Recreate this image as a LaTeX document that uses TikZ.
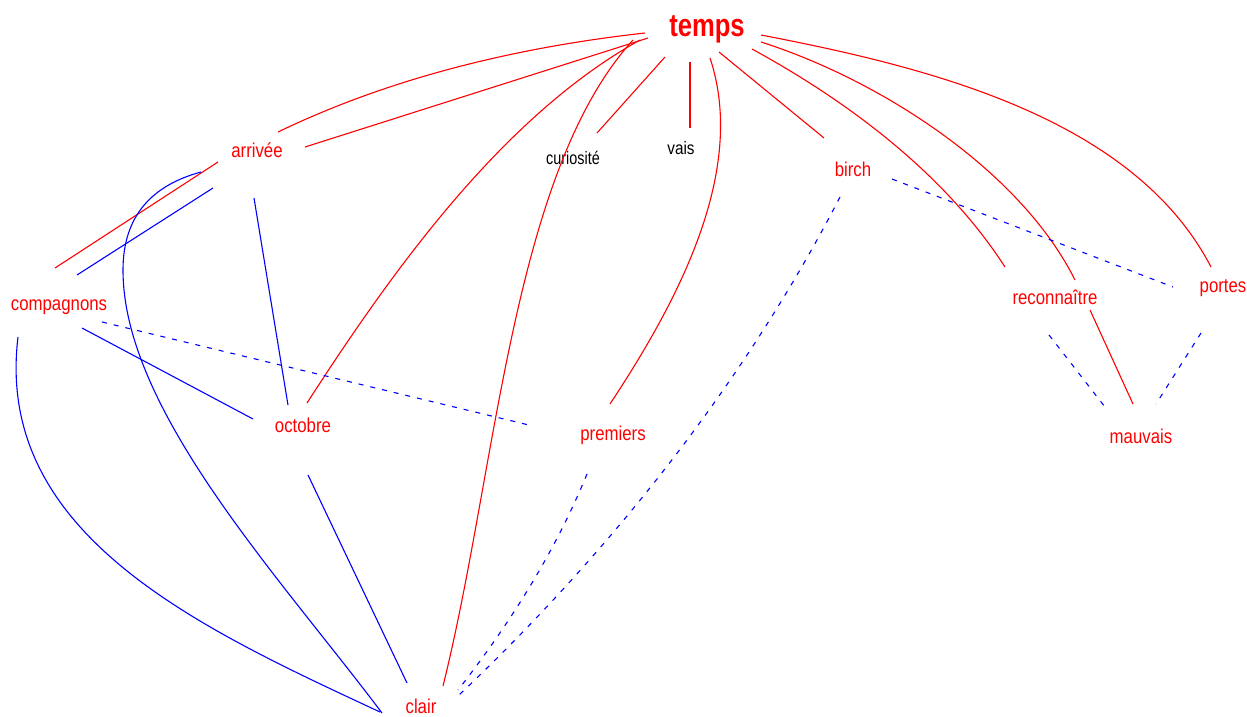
\documentclass[tikz,border=0pt]{standalone}
\usepackage{fontspec}
\setmainfont{Liberation Sans}
\usepackage{graphicx}
\usetikzlibrary{calc}
\newcommand{\narrowtxt}[2]{\scalebox{#1}[1]{#2}}
\begin{document}
\begin{tikzpicture}[x=1pt,y=-1pt,
  redlab/.style={inner sep=0pt, text=red, font=\fontsize{20}{24}\selectfont},
  blacklab/.style={inner sep=0pt, text=black, font=\fontsize{18}{22}\selectfont},
  toplab/.style={inner sep=0pt, text=red, font=\fontsize{32}{38}\selectfont\bfseries},
  redE/.style={draw=red, line width=1.1pt},
  blueE/.style={draw=blue, line width=1.1pt},
  blueD/.style={draw=blue, line width=1.1pt, dash pattern=on 5pt off 7pt},
]
\path[use as bounding box, fill=white] (0,0) rectangle (1247,717);

% nodes
\node[toplab]   (T) at (707,29)  {\narrowtxt{0.8}{temps}};
\node[redlab]   (A) at (257,150) {\narrowtxt{0.84}{arrivée}};
\node[blacklab] (C) at (573,158) {\narrowtxt{0.8}{curiosité}};
\node[blacklab] (V) at (681,148) {\narrowtxt{0.85}{vais}};
\node[redlab]   (B) at (853,169) {\narrowtxt{0.84}{birch}};
\node[redlab]   (K) at (59,307)  {\narrowtxt{0.84}{compagnons}};
\node[redlab]   (R) at (1055,297){\narrowtxt{0.84}{reconnaître}};
\node[redlab]   (P) at (1223,288){\narrowtxt{0.84}{portes}};
\node[redlab]   (O) at (303,425) {\narrowtxt{0.84}{octobre}};
\node[redlab]   (M) at (613,435) {\narrowtxt{0.84}{premiers}};
\node[redlab]   (W) at (1141,436){\narrowtxt{0.84}{mauvais}};
\node[redlab]   (L) at (421,706) {\narrowtxt{0.84}{clair}};

% red edges
\draw[redE] ($(T)+(-62,4)$) .. controls (519,47) and (392,77) .. ($(A)+(21,-18)$);
\draw[redE] ($(T)+(-59,9)$) -- ($(A)+(48,-3)$);
\draw[redE] ($(A)+(-39,12)$) -- ($(K)+(-4,-39)$);
\draw[redE] ($(T)+(-67,11)$) .. controls (505,115) and (396,265) .. ($(O)+(4,-22)$);
\draw[redE] ($(T)+(-74,11)$) .. controls (512,173) and (497,469) .. ($(L)+(22,-20)$);
\draw[redE] ($(T)+(-42,28)$) -- ($(C)+(24,-25)$);
\draw[redE] ($(T)+(-17,33)$) -- ($(V)+(9,-20)$);
\draw[redE] ($(T)+(3,29)$) .. controls (748,172) and (676,304) .. ($(M)+(-3,-31)$);
\draw[redE] ($(T)+(12,23)$) -- ($(B)+(-29,-31)$);
\draw[redE] ($(T)+(45,20)$) .. controls (849,102) and (945,174) .. ($(R)+(-50,-30)$);
\draw[redE] ($(T)+(54,13)$) .. controls (880,80) and (1020,170) .. ($(R)+(20,-17)$);
\draw[redE] ($(R)+(35,13)$) -- ($(W)+(-8,-32)$);
\draw[redE] ($(T)+(54,6)$) .. controls (927,67) and (1133,117) .. ($(P)+(-12,-21)$);

% blue solid edges
\draw[blueE] ($(A)+(-44,38)$) -- ($(K)+(18,-32)$);
\draw[blueE] ($(A)+(-56,22)$) .. controls (153,185) and (123,215) .. (123,270)
             .. controls (123,410) and (279,576) .. ($(L)+(-39,7)$);
\draw[blueE] ($(A)+(-3,48)$) -- ($(O)+(-15,-20)$);
\draw[blueE] ($(K)+(23,21)$) -- ($(O)+(-50,-6)$);
\draw[blueE] ($(K)+(-41,30)$) .. controls (-6,535) and (200,628) .. ($(L)+(-41,6)$);
\draw[blueE] ($(O)+(5,50)$) -- ($(L)+(-14,-23)$);

% blue dashed edges
\draw[blueD] ($(K)+(43,15)$) -- ($(M)+(-80,-9)$);
\draw[blueD] ($(M)+(-26,39)$) .. controls (555,552) and (509,625) .. ($(L)+(37,-16)$);
\draw[blueD] ($(B)+(-13,28)$) .. controls (744,383) and (611,551) .. ($(L)+(37,-10)$);
\draw[blueD] ($(B)+(39,10)$) -- ($(P)+(-50,-1)$);
\draw[blueD] ($(R)+(-6,38)$) -- ($(W)+(-36,-29)$);
\draw[blueD] ($(P)+(-22,45)$) -- ($(W)+(15,-32)$);
\end{tikzpicture}
\end{document}
